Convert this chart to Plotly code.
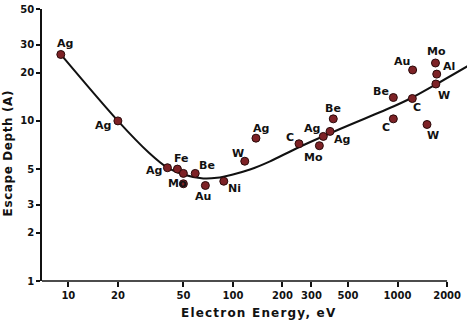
import numpy as np
import plotly.graph_objects as go

# ---- data ----
point_energy = [9, 20, 40, 46, 50, 59, 50, 68, 88, 118, 138, 252, 335, 354, 389, 407,
                943, 943, 1230, 1235, 1700, 1730, 1710, 1510]
point_depth = [26, 10, 5.1, 5.0, 4.7, 4.7, 4.05, 3.95, 4.2, 5.6, 7.8, 7.2, 7.0, 8.0, 8.6, 10.3,
               14, 10.3, 13.8, 20.8, 23, 19.6, 17, 9.5]
point_label = ["Ag", "Ag", "Ag", "Fe", "", "Be", "Mo", "Au", "Ni", "W", "Ag", "C", "Mo", "Ag", "Ag", "Be",
               "Be", "C", "C", "Au", "Mo", "Al", "W", "W"]

curve_energy = [9, 20, 31, 40, 50, 66, 80, 100, 127, 168, 244, 447, 943, 1230, 1710, 2690]
curve_depth = [26, 10, 6.3, 5.1, 4.63, 4.37, 4.41, 4.63, 4.97, 5.59, 6.75, 8.9, 12.3, 14.0, 16.9, 22.1]

x_ticks = [10, 20, 50, 100, 200, 300, 500, 1000, 2000]
y_ticks = [1, 2, 3, 5, 10, 20, 30, 50]

# ---- label offsets (px: dx right, dy down) ----
label_offsets = [(4, -11), (-15, 5), (-13, 3), (4, -11), (0, 0), (12, -8), (-6, 0), (-2, 11),
                 (11, 7), (-7, -8), (5, -10), (-9, -6), (-6, 12), (-11, -8), (12, 8), (0, -10),
                 (-12, -6), (-7, 9), (5, 9), (-11, -8), (1, -11), (12, -8), (8, 11), (6, 11)]

FONT = "DejaVu Sans"
XR = [0.84, 3.422]
YR = [0, np.log10(50)]

fig = go.Figure()
fig.add_trace(go.Scatter(x=curve_energy, y=curve_depth, mode="lines",
                         line=dict(color="#111", width=2, shape="spline", smoothing=0.9),
                         hoverinfo="skip", showlegend=False))

annotations = []
for xv, yv, lab, (dx, dy) in zip(point_energy, point_depth, point_label, label_offsets):
    if lab:
        annotations.append(dict(x=np.log10(xv), y=np.log10(yv), xref="x", yref="y",
                                text="<b>%s</b>" % lab,
                                showarrow=False, xshift=dx, yshift=-dy,
                                font=dict(family=FONT, size=11, color="#111")))

fig.add_trace(go.Scatter(x=point_energy, y=point_depth, mode="markers",
                         marker=dict(size=8, color="#7d2226", line=dict(color="#2a0a0a", width=1)),
                         showlegend=False, cliponaxis=False))

annotations.append(dict(x=(258 - 42) / 425, y=0, xref="paper", yref="paper", yshift=-32,
                        text='<span style="letter-spacing:1.2px"><b>Electron Energy, eV</b></span>',
                        showarrow=False, yanchor="middle",
                        font=dict(family=FONT, size=12, color="#111")))
annotations.append(dict(x=0, y=(281 - 152) / 275, xref="paper", yref="paper", xshift=-34,
                        text='<span style="letter-spacing:0.6px"><b>Escape Depth (A)</b></span>',
                        showarrow=False, textangle=-90,
                        xanchor="center", yanchor="middle",
                        font=dict(family=FONT, size=12, color="#111")))

x_axis_end = (np.log10(2000) - XR[0]) / (XR[1] - XR[0])
fig.add_shape(type="line", xref="paper", yref="paper", x0=0, x1=x_axis_end, y0=0, y1=0,
              line=dict(color="#111", width=1.5))

fig.update_layout(
    width=470, height=325,
    margin=dict(l=42, r=3, t=6, b=44),
    paper_bgcolor="white", plot_bgcolor="white",
    annotations=annotations,
    xaxis=dict(type="log", range=XR, tickvals=x_ticks,
               ticktext=["<b>%d</b>" % v for v in x_ticks],
               showgrid=False, zeroline=False, showline=False, ticks="outside",
               ticklen=5, tickwidth=1.5, tickcolor="#111",
               tickfont=dict(family=FONT, size=10, color="#111")),
    yaxis=dict(type="log", range=YR, tickvals=y_ticks,
               ticktext=["<b>%d</b>" % v for v in y_ticks],
               showgrid=False, zeroline=False, showline=True, linecolor="#111", linewidth=1.5,
               ticks="outside", ticklen=4, tickwidth=1.5, tickcolor="#111",
               tickfont=dict(family=FONT, size=10, color="#111")),
)

fig.write_html("out.html")
